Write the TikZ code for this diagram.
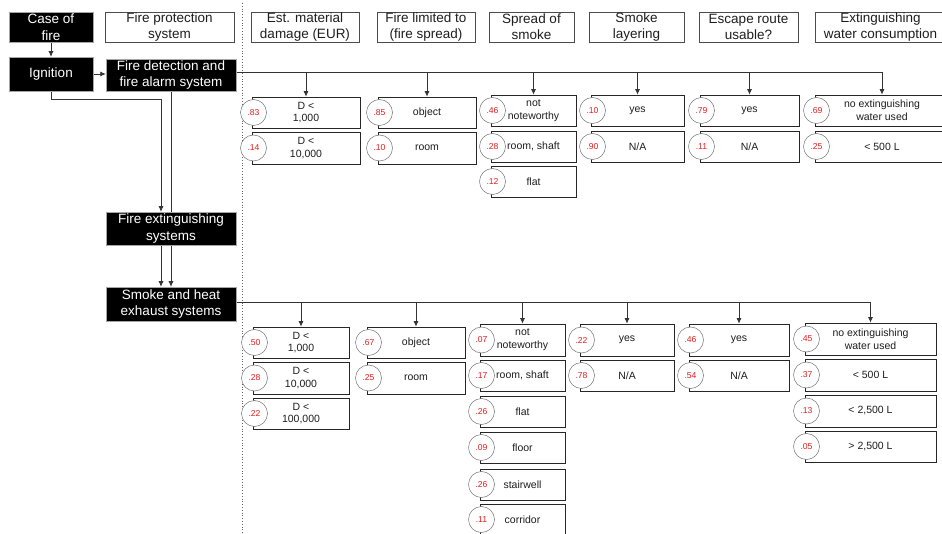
\documentclass[tikz,border=0pt]{standalone}
\usepackage{fontspec}
\setmainfont{Liberation Sans}
\usetikzlibrary{arrows.meta}
\pgfdeclarelayer{background}
\pgfsetlayers{background,main}
\definecolor{probred}{RGB}{225,30,30}
\definecolor{txtgray}{RGB}{30,30,30}
\tikzset{
  hdr/.style={draw=black!70, line width=0.6pt, fill=white, align=center, text=txtgray,
    font=\fontsize{13.5}{16}\selectfont, inner sep=0pt},
  blk/.style={draw=black!35, line width=0.5pt, fill=black, text=white, align=center,
    font=\fontsize{13.5}{16.5}\selectfont, inner sep=0pt},
  obox/.style={draw=black!85, line width=0.8pt, fill=white, align=center, text=txtgray,
    font=\fontsize{10.5}{12.7}\selectfont, inner sep=0pt},
  prob/.style={circle, draw=black!55, line width=0.5pt, fill=white, minimum size=26pt,
    inner sep=0pt, text=probred, font=\fontsize{8.6}{10}\selectfont},
  conn/.style={draw=black!80, line width=0.7pt},
  arr/.style={conn, -{Latex[length=5.5pt,width=5pt]}},
  sepline/.style={draw=black!60, dotted, line width=0.8pt},
}
\newcommand{\RBox}[7]{\node[#1, minimum width={(#4-#3)*1pt}, minimum height={(#6-#5)*1pt}] (#2) at ({(#3+#4)/2},{(#5+#6)/2}) {#7};}
\newcommand{\ORow}[7]{\RBox{obox}{#1}{#2}{#3}{#4}{#5}{#7}\node[prob] (#1p) at ({#2+1.5},{(#4+#5)/2}) {#6};}
\begin{document}
\begin{tikzpicture}[x=1pt,y=-1pt]
\useasboundingbox (0,0) rectangle (942,534);
% headers
\RBox{blk}{case}{9}{93}{12}{42}{Case of\\fire}
\RBox{hdr}{fps}{105}{234}{12}{42}{Fire protection\\system}
\RBox{hdr}{h1}{251}{359}{12}{42}{Est. material\\damage (EUR)}
\RBox{hdr}{h2}{377}{475}{12}{42}{Fire limited to\\(fire spread)}
\RBox{hdr}{h3}{489}{574}{12}{42}{Spread of\\smoke}
\RBox{hdr}{h4}{589}{684}{12}{42}{Smoke\\layering}
\RBox{hdr}{h5}{699}{798}{12}{42}{Escape route\\usable?}
\RBox{hdr}{h6}{815}{946}{12}{42}{Extinguishing\\water consumption}
% system boxes
\RBox{blk}{ign}{9}{93}{57}{91}{Ignition}
\RBox{blk}{fd}{106}{236}{59}{91}{Fire detection and\\fire alarm system}
\RBox{blk}{fe}{106}{236}{212}{245}{Fire extinguishing\\systems}
\RBox{blk}{sh}{106}{236}{287}{321}{Smoke and heat\\exhaust systems}
% outcomes: fire detection
\ORow{ma1}{252}{360}{97}{128}{.83}{D <\\1,000}
\ORow{ma2}{252}{360}{132}{164}{.14}{D <\\10,000}
\ORow{fa1}{378}{476}{97}{128}{.85}{object}
\ORow{fa2}{378}{476}{132}{164}{.10}{room}
\ORow{sa1}{491}{576}{95}{126}{.46}{not\\noteworthy}
\ORow{sa2}{491}{576}{131}{162}{.28}{room, shaft}
\ORow{sa3}{491}{576}{166}{197}{.12}{flat}
\ORow{la1}{591}{684}{95}{126}{.10}{yes}
\ORow{la2}{591}{684}{131}{162}{.90}{N/A}
\ORow{ea1}{700}{799}{95}{126}{.79}{yes}
\ORow{ea2}{700}{799}{131}{162}{.11}{N/A}
\ORow{wa1}{815}{949}{95}{126}{.69}{no extinguishing\\water used}
\ORow{wa2}{815}{949}{131}{162}{.25}{< 500 L}
% outcomes: smoke and heat exhaust
\ORow{mb1}{253}{349}{327}{358}{.50}{D <\\1,000}
\ORow{mb2}{253}{349}{362}{394}{.28}{D <\\10,000}
\ORow{mb3}{253}{349}{398}{429}{.22}{D <\\100,000}
\ORow{fb1}{367}{465}{327}{358}{.67}{object}
\ORow{fb2}{367}{465}{362}{394}{.25}{room}
\ORow{sb1}{480}{565}{324}{356}{.07}{not\\noteworthy}
\ORow{sb2}{480}{565}{360}{391}{.17}{room, shaft}
\ORow{sb3}{480}{565}{396}{427}{.26}{flat}
\ORow{sb4}{480}{565}{432}{463}{.09}{floor}
\ORow{sb5}{480}{565}{469}{500}{.26}{stairwell}
\ORow{sb6}{480}{565}{504}{535}{.11}{corridor}
\ORow{lb1}{580}{674}{324}{356}{.22}{yes}
\ORow{lb2}{580}{674}{360}{391}{.78}{N/A}
\ORow{eb1}{689}{789}{324}{356}{.46}{yes}
\ORow{eb2}{689}{789}{360}{391}{.54}{N/A}
\ORow{wb1}{805}{936}{323}{355}{.45}{no extinguishing\\water used}
\ORow{wb2}{805}{936}{359}{391}{.37}{< 500 L}
\ORow{wb3}{805}{936}{395}{427}{.13}{< 2,500 L}
\ORow{wb4}{805}{936}{431}{462}{.05}{> 2,500 L}
% connectors
\coordinate (busA) at (236,72);
\coordinate (busB) at (236,302);
\coordinate (j1) at (161,99);
\coordinate (fdx) at (171,91);
\begin{pgfonlayer}{background}
\fill[white] (0,0) rectangle (942,534);
\draw[sepline] (242,3) -- (242,534);
\draw[arr] (case.south) -- (ign.north);
\draw[arr] (ign.east) -- (ign.east -| fd.west);
\draw[arr] (ign.south) |- (j1) -- (j1 |- fe.north);
\draw[arr] (fdx) -- (fdx |- sh.north);
\draw[arr] (j1 |- fe.south) -- (j1 |- sh.north);
\draw[conn] (busA) -- (busA -| wa1.north);
\foreach \t in {ma1,fa1,sa1,la1,ea1,wa1}
  \draw[arr] (busA -| \t.north) -- (\t.north);
\draw[conn] (busB) -- (busB -| wb1.north);
\foreach \t in {mb1,fb1,sb1,lb1,eb1,wb1}
  \draw[arr] (busB -| \t.north) -- (\t.north);
\end{pgfonlayer}
\end{tikzpicture}
\end{document}
